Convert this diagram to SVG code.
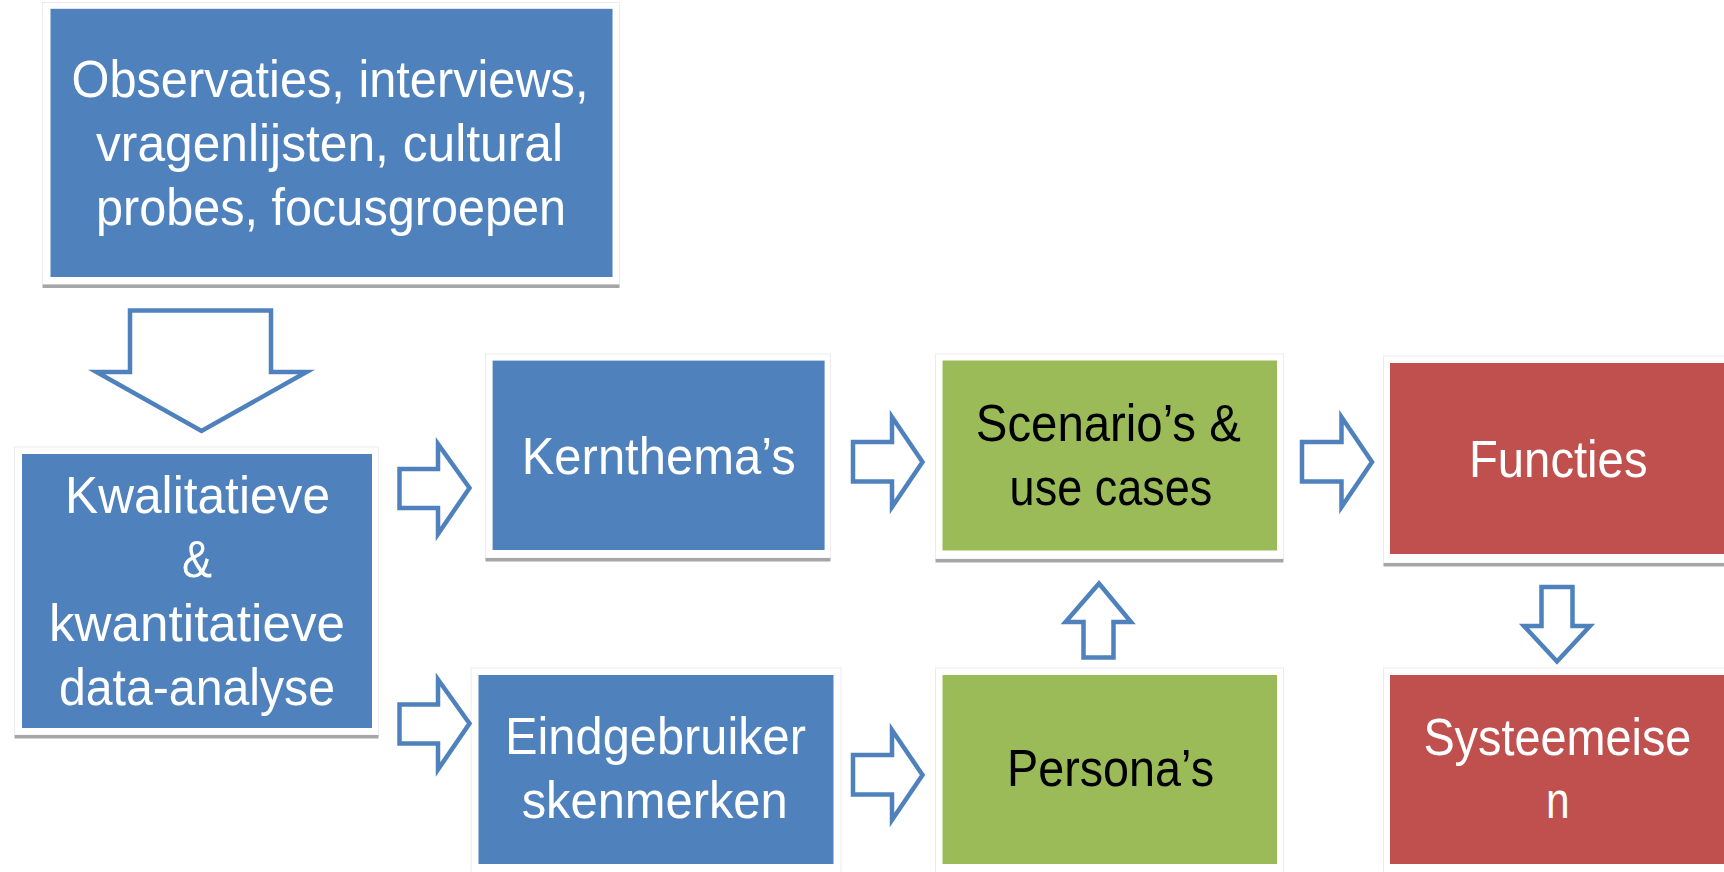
<svg xmlns="http://www.w3.org/2000/svg" width="1724" height="872" viewBox="0 0 1724 872">
<style>
.frame{fill:#ffffff;stroke:#ececec;stroke-width:1}
.shadow{fill:#a6a6a6}
.blue{fill:#4f81bd}
.green{fill:#9bbb59}
.red{fill:#c0504d}
text{font-family:"Liberation Sans","Noto Sans",sans-serif;font-size:52px}
.w{fill:#ffffff}
.k{fill:#000000}
.arrow{fill:#ffffff;stroke:#4f81bd;stroke-width:4.5;stroke-linejoin:miter;stroke-miterlimit:10}
</style>
<rect width="1724" height="872" fill="#ffffff"/>

<g id="node-observaties">
<rect class="frame" x="42.5" y="2.5" width="577" height="282"/>
<rect class="shadow" x="42.5" y="284.5" width="577" height="3.5"/>
<rect class="blue" x="50.5" y="8.8" width="562" height="268.2"/>
<text class="w" x="71.5" y="97" textLength="517" lengthAdjust="spacingAndGlyphs">Observaties, interviews,</text>
<text class="w" x="96" y="161" textLength="467" lengthAdjust="spacingAndGlyphs">vragenlijsten, cultural</text>
<text class="w" x="96" y="225" textLength="470" lengthAdjust="spacingAndGlyphs">probes, focusgroepen</text>
</g>

<g id="node-analyse">
<rect class="frame" x="14.5" y="447" width="364" height="288"/>
<rect class="shadow" x="14.5" y="735" width="364" height="3.5"/>
<rect class="blue" x="22" y="454" width="350" height="274"/>
<text class="w" x="65" y="513" textLength="265" lengthAdjust="spacingAndGlyphs">Kwalitatieve</text>
<text class="w" x="182" y="577" textLength="30" lengthAdjust="spacingAndGlyphs">&amp;</text>
<text class="w" x="49" y="641" textLength="296" lengthAdjust="spacingAndGlyphs">kwantitatieve</text>
<text class="w" x="59" y="705" textLength="276" lengthAdjust="spacingAndGlyphs">data-analyse</text>
</g>

<g id="node-kernthemas">
<rect class="frame" x="485.5" y="354" width="345" height="204"/>
<rect class="shadow" x="485.5" y="558" width="345" height="3.5"/>
<rect class="blue" x="492.6" y="360.6" width="332" height="189.4"/>
<text class="w" x="521.7" y="473.5" textLength="274" lengthAdjust="spacingAndGlyphs">Kernthema’s</text>
</g>

<g id="node-scenarios">
<rect class="frame" x="935.5" y="354" width="348" height="205"/>
<rect class="shadow" x="935.5" y="559" width="348" height="3.5"/>
<rect class="green" x="942.5" y="360.5" width="334.5" height="190"/>
<text class="k" x="975.8" y="441" textLength="265" lengthAdjust="spacingAndGlyphs">Scenario’s &amp;</text>
<text class="k" x="1009.6" y="505" textLength="202.7" lengthAdjust="spacingAndGlyphs">use cases</text>
</g>

<g id="node-functies">
<rect class="frame" x="1383.5" y="356" width="345" height="207"/>
<rect class="shadow" x="1383.5" y="563" width="345" height="3.5"/>
<rect class="red" x="1390" y="363" width="334" height="191"/>
<text class="w" x="1469" y="477" textLength="178.5" lengthAdjust="spacingAndGlyphs">Functies</text>
</g>

<g id="node-eindgebruiker">
<rect class="frame" x="471" y="668" width="370" height="210"/>
<rect class="blue" x="478.5" y="675" width="355" height="189"/>
<text class="w" x="505" y="753.5" textLength="301" lengthAdjust="spacingAndGlyphs">Eindgebruiker</text>
<text class="w" x="521.7" y="818" textLength="266" lengthAdjust="spacingAndGlyphs">skenmerken</text>
</g>

<g id="node-personas">
<rect class="frame" x="935.5" y="668" width="348" height="210"/>
<rect class="green" x="942.5" y="675" width="334.5" height="189"/>
<text class="k" x="1007" y="786" textLength="207" lengthAdjust="spacingAndGlyphs">Persona’s</text>
</g>

<g id="node-systeemeisen">
<rect class="frame" x="1383.5" y="668" width="345" height="210"/>
<rect class="red" x="1390" y="675" width="334" height="189"/>
<text class="w" x="1423.4" y="754.5" textLength="268" lengthAdjust="spacingAndGlyphs">Systeemeise</text>
<text class="w" x="1546" y="818" textLength="23.6" lengthAdjust="spacingAndGlyphs">n</text>
</g>

<g id="connectors">
<polygon class="arrow" points="130,310.5 271,310.5 271,372 306.5,372 201.5,431 96.5,372 130,372"/>
<polygon class="arrow" points="399.5,469 438,469 438,444 469.5,488 438,534 438,508 399.5,508"/>
<polygon class="arrow" points="399.5,704.5 438,704.5 438,679.5 469.5,723.5 438,769.5 438,743.5 399.5,743.5"/>
<polygon class="arrow" points="853,442 892,442 892,417 922.5,462 892,507 892,481.5 853,481.5"/>
<polygon class="arrow" points="853,755 892,755 892,730 922.5,775 892,820 892,794.5 853,794.5"/>
<polygon class="arrow" points="1302,442 1341.5,442 1341.5,417 1372,462 1341.5,507 1341.5,481.5 1302,481.5"/>
<polygon class="arrow" points="1083.5,657.5 1113.5,657.5 1113.5,622 1131,622 1099,583.5 1065.5,622 1083.5,622"/>
<polygon class="arrow" points="1541.5,587 1572.5,587 1572.5,626 1590,626 1557,661.5 1524,626 1541.5,626"/>
</g>
</svg>
